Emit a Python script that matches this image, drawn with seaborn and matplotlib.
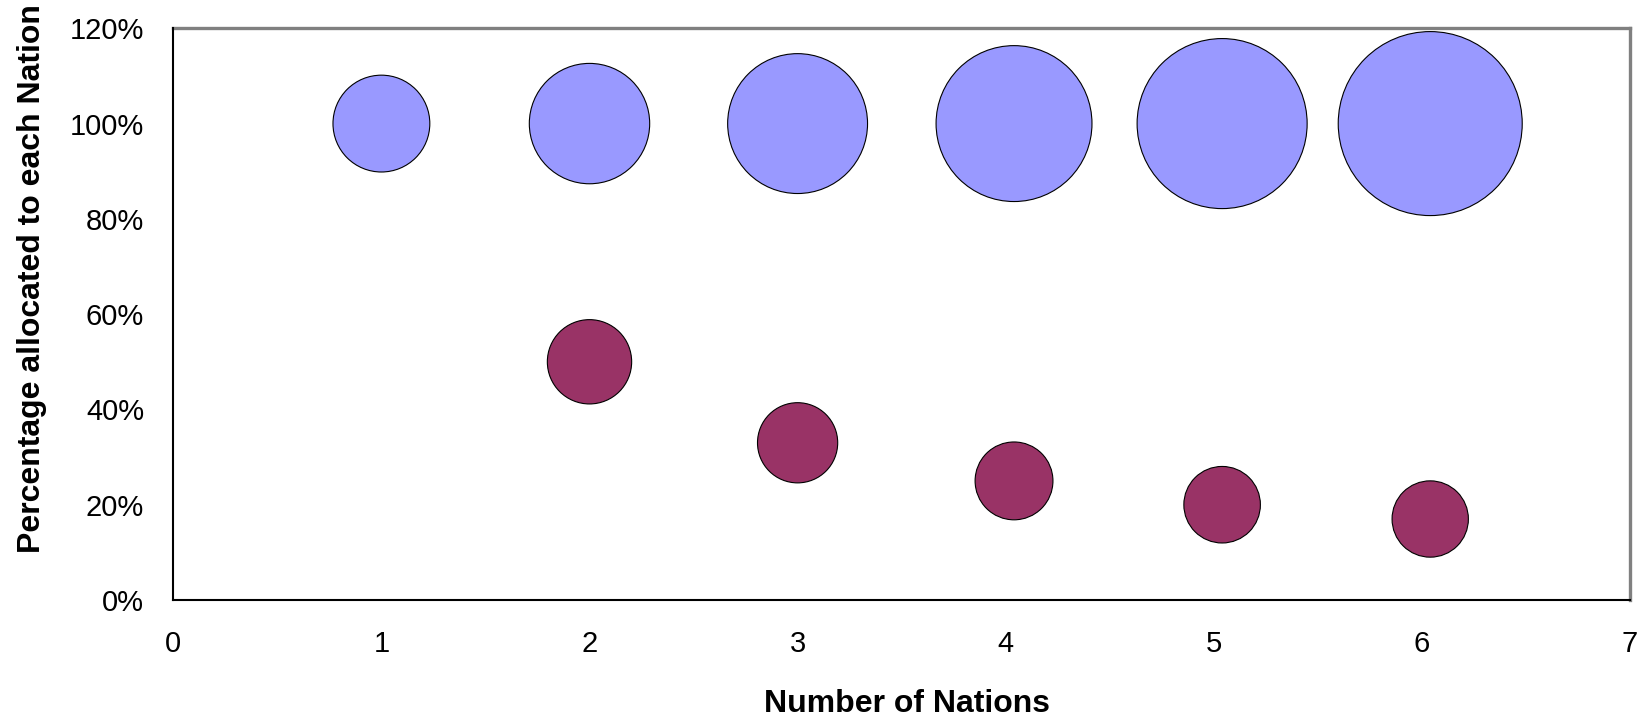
import matplotlib
matplotlib.use("Agg")
import matplotlib.pyplot as plt
import pandas as pd
import seaborn as sns
from matplotlib.ticker import FixedLocator, FuncFormatter

# Bubble data: x = number of nations, y = share allocated, weight = bubble area (relative)
total_nations = [1, 2, 3, 4.04, 5.04, 6.04]
total_share = [1.00, 1.00, 1.00, 1.00, 1.00, 1.00]
total_weight = [27.7, 42.8, 57.8, 71.8, 85.4, 100.0]

each_nations = [2, 3, 4.04, 5.04, 6.04]
each_share = [0.50, 0.33, 0.25, 0.20, 0.17]
each_weight = [21.0, 19.0, 17.9, 17.3, 17.2]

x_ticks = [0, 1, 2, 3, 4, 5, 6, 7]
y_ticks = [0.0, 0.2, 0.4, 0.6, 0.8, 1.0, 1.2]

df = pd.concat([
    pd.DataFrame({"nations": total_nations, "share": total_share,
                  "weight": total_weight, "series": "Total"}),
    pd.DataFrame({"nations": each_nations, "share": each_share,
                  "weight": each_weight, "series": "Each"}),
], ignore_index=True)

sns.set_style("white")
plt.rcParams["font.family"] = ["Liberation Sans", "DejaVu Sans"]
plt.rcParams["text.color"] = "black"

DPI = 100
fig = plt.figure(figsize=(16.46, 7.16), dpi=DPI)
ax = fig.add_axes([173.3 / 1646, 1 - 600 / 716, (1630 - 173.3) / 1646, (600 - 28.3) / 716])

# largest bubble diameter in points
max_diam_pt = 184 * 72 / DPI
sns.scatterplot(
    data=df, x="nations", y="share", hue="series", size="weight",
    palette={"Total": "#9999FF", "Each": "#993366"},
    sizes=(0, max_diam_pt ** 2), size_norm=(0, 100),
    edgecolor="black", linewidth=0.8, alpha=1, legend=False, ax=ax, zorder=3,
)

ax.set_xlim(0, 7)
ax.set_ylim(0, 1.2)
ax.xaxis.set_major_locator(FixedLocator(x_ticks))
ax.yaxis.set_major_locator(FixedLocator(y_ticks))
ax.xaxis.set_major_formatter(FuncFormatter(lambda v, p: f"{v:.0f}"))
ax.yaxis.set_major_formatter(FuncFormatter(lambda v, p: f"{v * 100:.0f}%"))
ax.tick_params(axis="both", direction="out", length=7.5, width=1.0, color="black",
               labelsize=21, labelcolor="black")
ax.tick_params(axis="x", pad=14)
ax.tick_params(axis="y", pad=13.5)
ax.set_xlabel("")
ax.set_ylabel("")

for side in ("left", "bottom"):
    ax.spines[side].set_color("black")
    ax.spines[side].set_linewidth(1.5)
    ax.spines[side].set_zorder(4)
for side in ("top", "right"):
    ax.spines[side].set_color("#808080")
    ax.spines[side].set_linewidth(2.4)
ax.grid(False)
ax.set_facecolor("white")

fig.text(907 / 1646, 1 - 712 / 716, "Number of Nations", ha="center", va="baseline",
         fontsize=23, fontweight="bold", color="black")
fig.text(40 / 1646, 1 - 279 / 716, "Percentage allocated to each Nation",
         rotation=90, rotation_mode="anchor", ha="center", va="baseline",
         fontsize=23, fontweight="bold", color="black")

fig.savefig("out.png", dpi=DPI, facecolor="white")
